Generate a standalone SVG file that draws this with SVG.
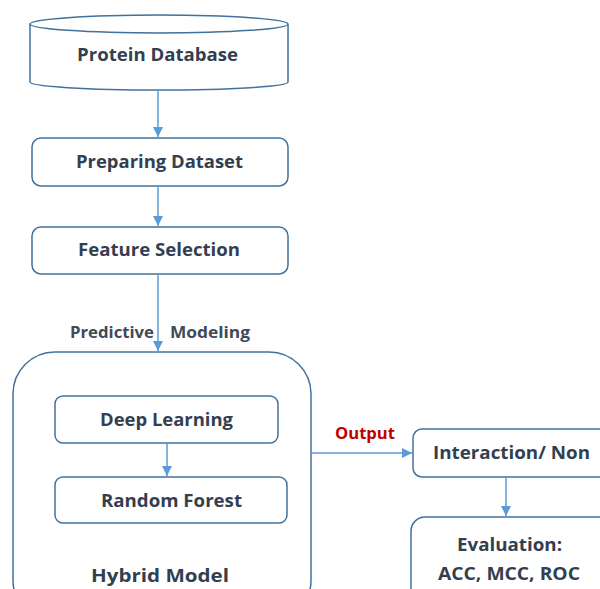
<svg xmlns="http://www.w3.org/2000/svg" width="600" height="589" viewBox="0 0 600 589">
  <style>
    .box { fill: #ffffff; stroke: #41719c; stroke-width: 1.5; }
    .lbl { font-family: "Open Sans", "Liberation Sans", sans-serif; font-weight: bold; font-size: 18px; fill: #333f50; }
    .sub { font-family: "Open Sans", "Liberation Sans", sans-serif; font-weight: bold; font-size: 16px; fill: #404a58; }
    .out { font-family: "Open Sans", "Liberation Sans", sans-serif; font-weight: bold; font-size: 16px; fill: #c00000; }
    .edge { fill: none; stroke: #5b9bd5; stroke-width: 1.5; }
  </style>
  <defs>
    <marker id="arrow" viewBox="0 0 10 10" refX="10" refY="5" markerWidth="10" markerHeight="10" markerUnits="userSpaceOnUse" orient="auto">
      <path d="M0,0 L10,5 L0,10 z" fill="#5b9bd5"/>
    </marker>
  </defs>
  <rect width="600" height="589" fill="#ffffff"/>

  <g id="protein-database">
    <path class="box" d="M30,24 L30,82 A129,8 0 0 0 288,82 L288,24"/>
    <ellipse class="box" cx="159" cy="24" rx="129" ry="9"/>
    <text class="lbl" x="77" y="61" textLength="161" lengthAdjust="spacingAndGlyphs">Protein Database</text>
  </g>

  <g id="preparing-dataset">
    <rect class="box" x="32" y="138" width="256" height="48" rx="9"/>
    <text class="lbl" x="76" y="168" textLength="167" lengthAdjust="spacingAndGlyphs">Preparing Dataset</text>
  </g>

  <g id="feature-selection">
    <rect class="box" x="32" y="227" width="256" height="47" rx="9"/>
    <text class="lbl" x="78" y="256" textLength="162" lengthAdjust="spacingAndGlyphs">Feature Selection</text>
  </g>

  <g id="hybrid-model">
    <rect class="box" x="13" y="352" width="298" height="270" rx="42"/>
    <text class="lbl" x="91" y="582" textLength="138" lengthAdjust="spacingAndGlyphs">Hybrid Model</text>
  </g>

  <g id="deep-learning">
    <rect class="box" x="55" y="396" width="223" height="47" rx="8"/>
    <text class="lbl" x="100" y="426" textLength="133" lengthAdjust="spacingAndGlyphs">Deep Learning</text>
  </g>

  <g id="random-forest">
    <rect class="box" x="55" y="477" width="232" height="46" rx="8"/>
    <text class="lbl" x="101" y="507" textLength="141" lengthAdjust="spacingAndGlyphs">Random Forest</text>
  </g>

  <g id="interaction">
    <rect class="box" x="413" y="429" width="200" height="48" rx="9"/>
    <text class="lbl" x="433" y="459" textLength="157" lengthAdjust="spacingAndGlyphs">Interaction/ Non</text>
  </g>

  <g id="evaluation">
    <rect class="box" x="411" y="517" width="210" height="100" rx="14"/>
    <text class="lbl" x="457" y="551" textLength="105" lengthAdjust="spacingAndGlyphs">Evaluation:</text>
    <text class="lbl" x="438" y="580" textLength="142" lengthAdjust="spacingAndGlyphs">ACC, MCC, ROC</text>
  </g>

  <!-- connectors drawn last so they sit above the container fill -->
  <g id="connectors">
    <line class="edge" x1="158" y1="90" x2="158" y2="137" marker-end="url(#arrow)"/>
    <line class="edge" x1="158" y1="186" x2="158" y2="226" marker-end="url(#arrow)"/>
    <line class="edge" x1="158" y1="274" x2="158" y2="351" marker-end="url(#arrow)"/>
    <line class="edge" x1="167" y1="443" x2="167" y2="476" marker-end="url(#arrow)"/>
    <line class="edge" x1="311" y1="453" x2="412" y2="453" marker-end="url(#arrow)"/>
    <line class="edge" x1="506" y1="477" x2="506" y2="516" marker-end="url(#arrow)"/>
    <text class="sub" x="70" y="338" textLength="84" lengthAdjust="spacingAndGlyphs">Predictive</text>
    <text class="sub" x="170" y="338" textLength="80" lengthAdjust="spacingAndGlyphs">Modeling</text>
    <text class="out" x="335" y="439" textLength="60" lengthAdjust="spacingAndGlyphs">Output</text>
  </g>
</svg>
